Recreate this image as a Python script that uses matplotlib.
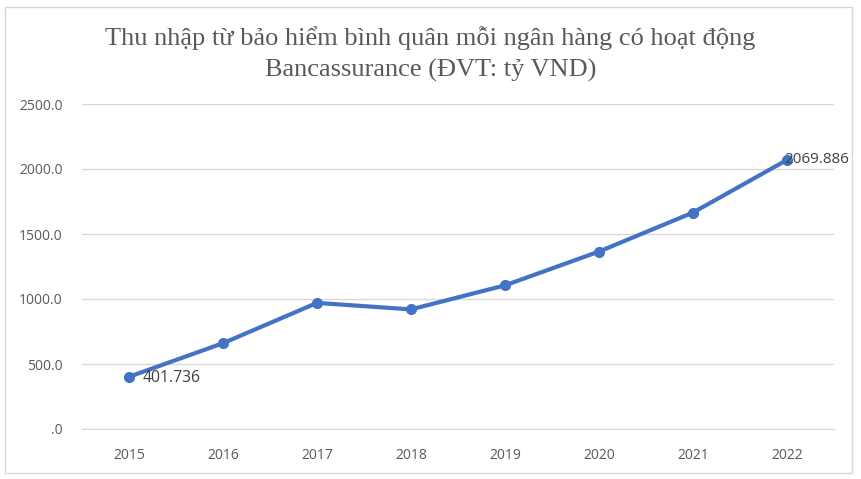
import matplotlib.pyplot as plt
from matplotlib.patches import Rectangle

years = ["2015", "2016", "2017", "2018", "2019", "2020", "2021", "2022"]
income = [401.736, 660, 970, 920, 1105, 1365, 1665, 2069.886]
yticks = [0, 500, 1000, 1500, 2000, 2500]
ytick_labels = [".0", "500.0", "1000.0", "1500.0", "2000.0", "2500.0"]

fig = plt.figure(figsize=(8.61, 4.79), dpi=100)
fig.patches.append(Rectangle((5 / 861, 6 / 479), 847 / 861, 466 / 479, transform=fig.transFigure,
                             fill=False, edgecolor="#d9d9d9", linewidth=1))
ax = fig.add_axes([82 / 861, 50 / 479, 752 / 861, 325 / 479])

x = range(len(years))
ax.plot(x, income, color="#4472C4", linewidth=3, marker="o", markersize=7, zorder=3)
ax.annotate("401.736", (0, income[0]), xytext=(10, -1), textcoords="offset points",
            ha="left", va="center", fontsize=11.3, color="#404040", family="Open Sans")
ax.annotate("2069.886", (7, income[-1]), xytext=(-2, 0), textcoords="offset points",
            ha="left", va="center", fontsize=11, color="#404040", family="Open Sans")

ax.set_xlim(-0.5, 7.5)
ax.set_ylim(0, 2500)
ax.set_xticks(list(x))
ax.set_xticklabels(years)
ax.set_yticks(yticks)
ax.set_yticklabels(ytick_labels)
ax.grid(axis="y", color="#d9d9d9", linewidth=1)
ax.set_axisbelow(True)
for s in ["top", "right", "left"]:
    ax.spines[s].set_visible(False)
ax.spines["bottom"].set_color("#d9d9d9")
ax.tick_params(length=0, labelsize=10, labelcolor="#595959", pad=14)
for lab in ax.get_xticklabels() + ax.get_yticklabels():
    lab.set_family("Open Sans")

fig.text(0.5, 1 - 38 / 479, "Thu nhập từ bảo hiểm bình quân mỗi ngân hàng có hoạt động",
         ha="center", va="center", fontsize=19, color="#595959", family="Liberation Serif")
fig.text(0.5, 1 - 70 / 479, "Bancassurance (ĐVT: tỷ VND)",
         ha="center", va="center", fontsize=19, color="#595959", family="Liberation Serif")

fig.savefig("out.png", dpi=100)
